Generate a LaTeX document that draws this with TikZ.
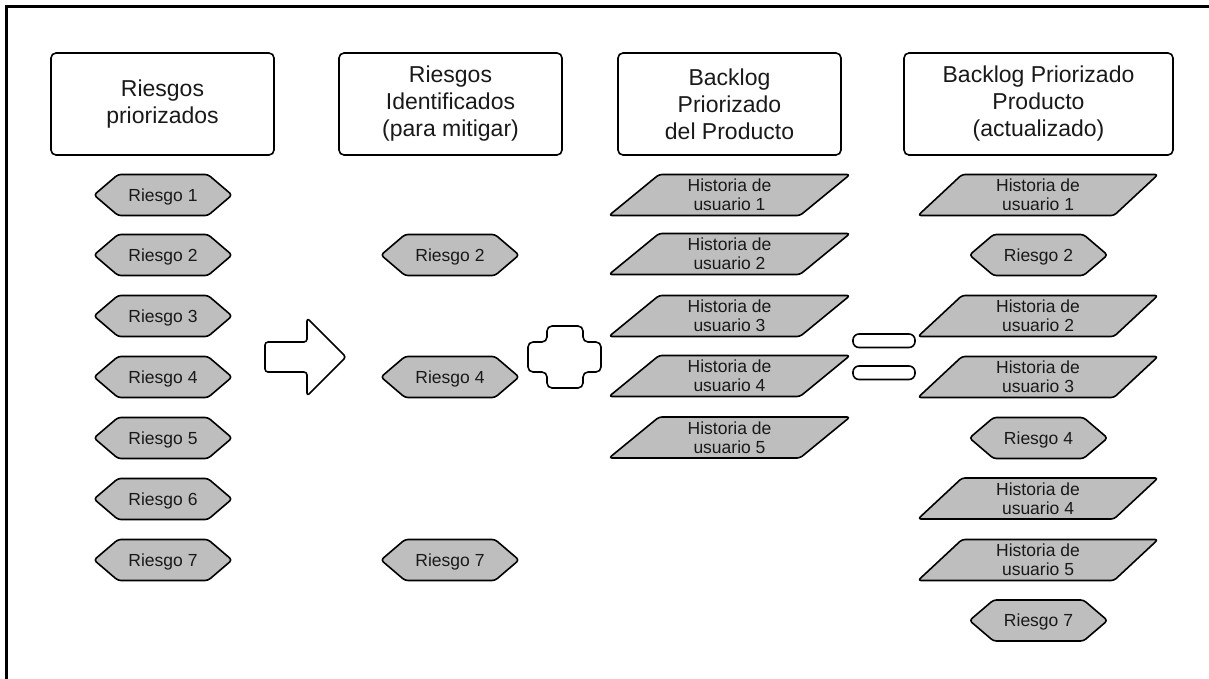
\documentclass[tikz,border=0pt]{standalone}
\usepackage{fontspec}
\setmainfont{Liberation Sans}
\definecolor{boxgray}{RGB}{190,190,190}
\definecolor{textc}{RGB}{25,25,25}
\tikzset{
  shp/.style={draw=black, line width=1.6pt, fill=boxgray, rounded corners=3pt, line join=round},
  outl/.style={draw=black, line width=1.6pt, fill=white, line join=round},
  lbl/.style={font=\fontsize{17.5}{19}\selectfont, text=textc, align=center, inner sep=0pt},
  hdr/.style={draw=black, line width=1.6pt, rounded corners=5pt, align=center, text=textc,
              font=\fontsize{23}{27}\selectfont, inner sep=0pt, minimum height=102pt},
}
\newcommand\riskhex[4]{% name, x, y, text
  \draw[shp] (#2-69,#3) -- (#2-45,#3-20.5) -- (#2+45,#3-20.5) -- (#2+69,#3) -- (#2+45,#3+20.5) -- (#2-45,#3+20.5) -- cycle;
  \node[lbl, text height=12.5pt, text depth=0pt] (#1) at (#2,#3) {#4};
}
\newcommand\storypar[6]{% name, x, y, w, s, text
  \draw[shp] (#2-#4/2+#5/2,#3-20.5) -- (#2+#4/2+#5/2,#3-20.5) -- (#2+#4/2-#5/2,#3+20.5) -- (#2-#4/2-#5/2,#3+20.5) -- cycle;
  \node[lbl] (#1) at (#2,#3) {#6};
}
\begin{document}
\begin{tikzpicture}[x=1pt,y=-1pt]
\useasboundingbox (0,0) rectangle (1209,679);
% frame (top and left lines)
\draw[line width=2.6pt] (6.5,679) -- (6.5,6.5) -- (1209,6.5);

% headers
\node[hdr, minimum width=223pt] (h1) at (162.5,104) {Riesgos\\priorizados};
\node[hdr, minimum width=223pt] (h2) at (450.5,104) {Riesgos\\Identificados\\(para mitigar)};
\node[hdr, minimum width=223pt] (h3) at (729.5,104) {Backlog\\Priorizado\\del Producto};
\node[hdr, minimum width=269pt] (h4) at (1038.5,104) {Backlog Priorizado\\Producto\\(actualizado)};

% column 1
\riskhex{a1}{163}{195}{Riesgo 1}
\riskhex{a2}{163}{255}{Riesgo 2}
\riskhex{a3}{163}{316}{Riesgo 3}
\riskhex{a4}{163}{377}{Riesgo 4}
\riskhex{a5}{163}{438}{Riesgo 5}
\riskhex{a6}{163}{499}{Riesgo 6}
\riskhex{a7}{163}{560}{Riesgo 7}

% column 2
\riskhex{b2}{450}{255}{Riesgo 2}
\riskhex{b4}{450}{377}{Riesgo 4}
\riskhex{b7}{450}{560}{Riesgo 7}

% column 3
\storypar{c1}{729.5}{195}{191}{50}{Historia de\\usuario 1}
\storypar{c2}{729.5}{254}{191}{50}{Historia de\\usuario 2}
\storypar{c3}{729.5}{316}{191}{50}{Historia de\\usuario 3}
\storypar{c4}{729.5}{376}{191}{50}{Historia de\\usuario 4}
\storypar{c5}{729.5}{437.5}{191}{50}{Historia de\\usuario 5}

% column 4
\storypar{d1}{1038}{195}{196}{44}{Historia de\\usuario 1}
\riskhex{d2}{1038.5}{255}{Riesgo 2}
\storypar{d3}{1038}{316}{196}{44}{Historia de\\usuario 2}
\storypar{d4}{1038}{377}{196}{44}{Historia de\\usuario 3}
\riskhex{d5}{1038.5}{438}{Riesgo 4}
\storypar{d6}{1038}{498.5}{196}{44}{Historia de\\usuario 4}
\storypar{d7}{1038}{560}{196}{44}{Historia de\\usuario 5}
\riskhex{d8}{1038.5}{620.5}{Riesgo 7}

% arrow
\draw[outl, rounded corners=3pt] (265,342) -- (307,342) -- (307,318) -- (346,357) -- (307,396) -- (307,372) -- (265,372) -- cycle;

% plus
\draw[outl, rounded corners=5pt] (547,326) -- (583,326) -- (583,342) -- (601,342) -- (601,372) -- (583,372) -- (583,388) -- (547,388) -- (547,372) -- (528,372) -- (528,342) -- (547,342) -- cycle;

% equals
\draw[outl, rounded corners=6pt] (853,334) rectangle (915,347.5);
\draw[outl, rounded corners=6pt] (853,366) rectangle (915,379.5);
\end{tikzpicture}
\end{document}
